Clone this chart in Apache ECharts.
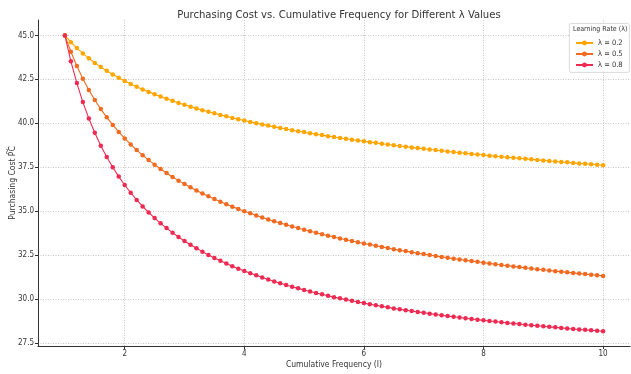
<!DOCTYPE html>
<html>
<head>
<meta charset="utf-8">
<script src="https://cdn.jsdelivr.net/npm/echarts@6/dist/echarts.min.js"></script>
<style>
  html, body { margin: 0; padding: 0; background: #fff; }
  #chart { width: 631px; height: 374px; }
</style>
</head>
<body>
<div id="chart"></div>
<script>
// Cumulative frequency I, 1.0 to 10.0 in steps of 0.1
const frequency = [
  1.0, 1.1, 1.2, 1.3, 1.4, 1.5, 1.6, 1.7, 1.8, 1.9,
  2.0, 2.1, 2.2, 2.3, 2.4, 2.5, 2.6, 2.7, 2.8, 2.9,
  3.0, 3.1, 3.2, 3.3, 3.4, 3.5, 3.6, 3.7, 3.8, 3.9,
  4.0, 4.1, 4.2, 4.3, 4.4, 4.5, 4.6, 4.7, 4.8, 4.9,
  5.0, 5.1, 5.2, 5.3, 5.4, 5.5, 5.6, 5.7, 5.8, 5.9,
  6.0, 6.1, 6.2, 6.3, 6.4, 6.5, 6.6, 6.7, 6.8, 6.9,
  7.0, 7.1, 7.2, 7.3, 7.4, 7.5, 7.6, 7.7, 7.8, 7.9,
  8.0, 8.1, 8.2, 8.3, 8.4, 8.5, 8.6, 8.7, 8.8, 8.9,
  9.0, 9.1, 9.2, 9.3, 9.4, 9.5, 9.6, 9.7, 9.8, 9.9,
  10.0
];

// Purchasing cost for learning rate λ = 0.2
const costLambda02 = [
  45.00, 44.62, 44.28, 43.98, 43.70, 43.44, 43.21, 42.99, 42.78, 42.59,
  42.41, 42.24, 42.08, 41.93, 41.79, 41.65, 41.52, 41.40, 41.28, 41.16,
  41.06, 40.95, 40.85, 40.75, 40.66, 40.57, 40.48, 40.40, 40.31, 40.23,
  40.16, 40.08, 40.01, 39.94, 39.87, 39.80, 39.74, 39.68, 39.61, 39.55,
  39.50, 39.44, 39.38, 39.33, 39.27, 39.22, 39.17, 39.12, 39.07, 39.02,
  38.98, 38.93, 38.89, 38.84, 38.80, 38.75, 38.71, 38.67, 38.63, 38.59,
  38.55, 38.51, 38.48, 38.44, 38.40, 38.37, 38.33, 38.30, 38.26, 38.23,
  38.20, 38.16, 38.13, 38.10, 38.07, 38.04, 38.01, 37.98, 37.95, 37.92,
  37.89, 37.86, 37.83, 37.80, 37.78, 37.75, 37.72, 37.70, 37.67, 37.64,
  37.62
];

// Purchasing cost for learning rate λ = 0.5
const costLambda05 = [
  45.00, 44.07, 43.26, 42.54, 41.90, 41.33, 40.81, 40.34, 39.91, 39.51,
  39.14, 38.80, 38.48, 38.19, 37.91, 37.65, 37.40, 37.17, 36.95, 36.74,
  36.55, 36.36, 36.18, 36.01, 35.85, 35.69, 35.54, 35.40, 35.26, 35.13,
  35.00, 34.88, 34.76, 34.64, 34.53, 34.43, 34.33, 34.23, 34.13, 34.04,
  33.94, 33.86, 33.77, 33.69, 33.61, 33.53, 33.45, 33.38, 33.30, 33.23,
  33.16, 33.10, 33.03, 32.97, 32.91, 32.84, 32.78, 32.73, 32.67, 32.61,
  32.56, 32.51, 32.45, 32.40, 32.35, 32.30, 32.25, 32.21, 32.16, 32.12,
  32.07, 32.03, 31.98, 31.94, 31.90, 31.86, 31.82, 31.78, 31.74, 31.70,
  31.67, 31.63, 31.59, 31.56, 31.52, 31.49, 31.45, 31.42, 31.39, 31.36,
  31.32
];

// Purchasing cost for learning rate λ = 0.8
const costLambda08 = [
  45.00, 43.53, 42.29, 41.21, 40.28, 39.46, 38.73, 38.08, 37.50, 36.97,
  36.49, 36.05, 35.64, 35.27, 34.93, 34.61, 34.31, 34.04, 33.78, 33.53,
  33.30, 33.09, 32.89, 32.70, 32.51, 32.34, 32.18, 32.02, 31.87, 31.73,
  31.60, 31.47, 31.35, 31.23, 31.11, 31.00, 30.90, 30.80, 30.70, 30.61,
  30.52, 30.43, 30.35, 30.27, 30.19, 30.11, 30.04, 29.97, 29.90, 29.83,
  29.77, 29.71, 29.65, 29.59, 29.53, 29.47, 29.42, 29.37, 29.32, 29.27,
  29.22, 29.17, 29.12, 29.08, 29.03, 28.99, 28.95, 28.91, 28.87, 28.83,
  28.79, 28.75, 28.72, 28.68, 28.64, 28.61, 28.58, 28.54, 28.51, 28.48,
  28.45, 28.42, 28.39, 28.36, 28.33, 28.30, 28.27, 28.25, 28.22, 28.20,
  28.17
];

const seriesNames = ['λ = 0.2', 'λ = 0.5', 'λ = 0.8'];
const seriesColors = ['#ffa500', '#f26a1f', '#ef2a52'];

const xTicks = [2, 4, 6, 8, 10];
const yTicks = [27.5, 30.0, 32.5, 35.0, 37.5, 40.0, 42.5, 45.0];

const FONT = '"DejaVu Sans Condensed", "DejaVu Sans", sans-serif';

function pairs(ys) {
  return frequency.map((x, i) => [x, ys[i]]);
}

const chart = echarts.init(document.getElementById('chart'), null, { renderer: 'canvas' });

const lineSeries = [costLambda02, costLambda05, costLambda08].map((ys, k) => ({
  name: seriesNames[k],
  type: 'line',
  data: pairs(ys),
  symbol: 'circle',
  symbolSize: 4.5,
  showSymbol: true,
  color: seriesColors[k],
  lineStyle: { width: 1.1, color: seriesColors[k] },
  itemStyle: { color: seriesColors[k] },
  emphasis: { disabled: true },
  z: 3 + k,
  animation: false
}));

const gridLineStyle = { color: '#b8b8b8', type: [1, 1.5], width: 0.8 };

chart.setOption({
  animation: false,
  backgroundColor: '#ffffff',
  title: {
    text: 'Purchasing Cost vs. Cumulative Frequency for Different λ Values',
    left: 334, top: 5, textAlign: 'center',
    textStyle: { fontFamily: FONT, fontSize: 11.2, fontWeight: 'normal', color: '#333' }
  },
  grid: { left: 38, right: 1, top: 20, bottom: 28, containLabel: false, outerBoundsMode: 'none' },
  xAxis: {
    type: 'value',
    min: 0.55, max: 10.45,
    name: 'Cumulative Frequency (I)',
    nameLocation: 'middle', nameGap: 14, nameMoveOverlap: false,
    nameTextStyle: { fontFamily: FONT, fontSize: 8.5, color: '#333' },
    axisLine: { show: true, onZero: false, lineStyle: { color: '#333', width: 1 } },
    axisTick: { show: true, customValues: xTicks, length: 3, lineStyle: { color: '#333' } },
    axisLabel: { customValues: xTicks, fontFamily: FONT, fontSize: 8, color: '#333', margin: 4 },
    splitLine: { show: true, lineStyle: gridLineStyle }
  },
  yAxis: {
    type: 'value',
    min: 27.33, max: 45.88,
    name: 'Purchasing Cost P\u0360C',
    nameLocation: 'middle', nameGap: 21, nameMoveOverlap: false,
    nameTextStyle: { fontFamily: FONT, fontSize: 8.5, color: '#333' },
    axisLine: { show: true, onZero: false, lineStyle: { color: '#333', width: 1 } },
    axisTick: { show: true, customValues: yTicks, length: 3, lineStyle: { color: '#333' } },
    axisLabel: {
      customValues: yTicks, fontFamily: FONT, fontSize: 8, color: '#333', margin: 4,
      formatter: v => v.toFixed(1)
    },
    splitLine: { show: true, lineStyle: gridLineStyle }
  },
  legend: {
    data: seriesNames,
    orient: 'vertical',
    left: 570, top: 34,
    itemWidth: 17, itemHeight: 6, itemGap: 3,
    textStyle: { fontFamily: FONT, fontSize: 7.5, color: '#333' },
    selectedMode: false,
    z: 30
  },
  graphic: [
    {
      type: 'rect', left: 569, top: 23, z: 20, silent: true,
      shape: { width: 60, height: 49, r: 2 },
      style: { fill: 'rgba(255,255,255,0.85)', stroke: '#d0d0d0', lineWidth: 0.8 }
    },
    {
      type: 'text', left: 573, top: 26, z: 31, silent: true,
      style: { text: 'Learning Rate (λ)', fontFamily: FONT, fontSize: 7, fill: '#333' }
    }
  ],
  series: lineSeries
});
</script>
</body>
</html>
